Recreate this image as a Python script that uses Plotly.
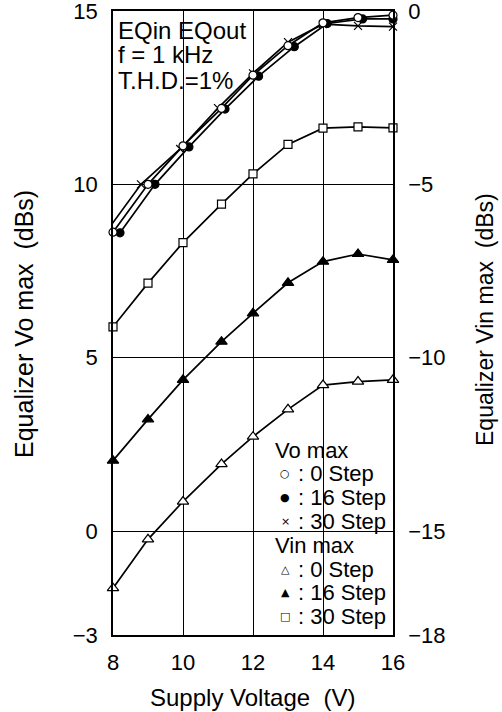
import plotly.graph_objects as go

# ---------------- data ----------------
voltage = [8, 9, 10, 11.1, 12, 13, 14, 15, 16]
voltage_vo16 = [8.2, 9.2, 10.17, 11.2, 12.16, 13.18, 14.12, 15.13, 16]
voltage_vo30 = [7.8, 8.8, 9.92, 11.0, 12.0, 13.0, 14.0, 15.0, 16.0]

vo_0step = [8.62, 10.0, 11.11, 12.19, 13.15, 14.0, 14.66, 14.81, 14.88]
vo_16step = [8.6, 10.0, 11.08, 12.17, 13.12, 13.97, 14.64, 14.77, 14.77]
vo_30step = [8.62, 10.0, 11.02, 12.2, 13.2, 14.1, 14.62, 14.57, 14.55]

vin_0step = [-16.65, -15.24, -14.15, -13.07, -12.28, -11.49, -10.79, -10.69, -10.64]
vin_16step = [-12.97, -11.78, -10.64, -9.54, -8.72, -7.84, -7.23, -7.01, -7.18]
vin_30step = [-9.11, -7.85, -6.68, -5.57, -4.70, -3.85, -3.38, -3.34, -3.37]

x_ticks = [8, 10, 12, 14, 16]
y_left_ticks = [-3, 0, 5, 10, 15]
y_right_ticks = [-18, -15, -10, -5, 0]

info_lines = ["EQin EQout", "f = 1 kHz", "T.H.D.=1%"]
legend_items = [
    ("Vo max", None),
    ("○", ": 0 Step"),
    ("●", ": 16 Step"),
    ("×", ": 30 Step"),
    ("Vin max", None),
    ("△", ": 0 Step"),
    ("▲", ": 16 Step"),
    ("□", ": 30 Step"),
]

FONT = "Liberation Sans, Arial, sans-serif"
BLACK = "#000000"

fig = go.Figure()

def add(x, y, symbol, fill, size, yaxis="y", lw=1.7, mlw=1.2):
    fig.add_trace(go.Scatter(
        x=x, y=y, yaxis=yaxis, mode="lines+markers", cliponaxis=False,
        line=dict(color=BLACK, width=lw),
        marker=dict(symbol=symbol, size=size, color=fill,
                    line=dict(color=BLACK, width=mlw)),
        showlegend=False, hoverinfo="skip"))

# Vin max (right axis)
add(voltage, vin_30step, "square", "white", 8, "y2")
add(voltage, vin_16step, "triangle-up", BLACK, 10, "y2")
add(voltage, vin_0step, "triangle-up", "white", 10, "y2")
# Vo max (left axis)
add(voltage_vo30, vo_30step, "x-thin", BLACK, 8, "y", mlw=1.2)
add(voltage_vo16, vo_16step, "circle", BLACK, 8, "y")
add(voltage, vo_0step, "circle", "white", 8, "y")

TICK_SIZE = 22
ax_common = dict(showline=True, linecolor=BLACK, linewidth=1.5,
                 ticks="inside", ticklen=5, tickcolor=BLACK, tickwidth=1,
                 tickfont=dict(family=FONT, size=TICK_SIZE, color=BLACK),
                 zeroline=False, fixedrange=True, automargin=False,
                 ticklabeloverflow="allow")

fig.update_layout(
    width=502, height=712,
    margin=dict(l=113, r=109, t=11, b=77, autoexpand=False),
    paper_bgcolor="white", plot_bgcolor="white",
    font=dict(family=FONT, color=BLACK),
    xaxis=dict(range=[8, 16], tickvals=x_ticks, mirror="ticks",
               showgrid=True, gridcolor=BLACK, gridwidth=1,
               ticklabelstandoff=7, **ax_common),
    yaxis=dict(range=[-3, 15], tickvals=y_left_ticks, tickformat="d",
               showgrid=True, gridcolor=BLACK, gridwidth=1,
               ticklabelstandoff=9, **ax_common),
    yaxis2=dict(range=[-18, 0], tickvals=y_right_ticks, overlaying="y",
                side="right", showgrid=False, ticklabelstandoff=9,
                **ax_common),
)

# white boxes behind the info text and the key
fig.add_shape(type="rect", xref="paper", yref="paper", x0=0.004, x1=0.30,
              y0=0.868, y1=0.996, fillcolor="white", line=dict(width=0),
              layer="between")
fig.add_shape(type="rect", xref="paper", yref="paper", x0=0.564, x1=0.994,
              y0=0.005, y1=0.316, fillcolor="white", line=dict(width=0),
              layer="between")

def px_x(px):
    return (px - 113) / 280.0

def px_y(py):
    return 1 - (py - 11) / 624.0

# info text
for i, t in enumerate(info_lines):
    fig.add_annotation(text=t, xref="paper", yref="paper",
                       x=px_x(116), y=px_y(30 + 25 * i), xanchor="left",
                       yanchor="middle", showarrow=False,
                       font=dict(family=FONT, size=24, color=BLACK))

# key
for i, (a, b) in enumerate(legend_items):
    yy = px_y(450 + 23.8 * i)
    if b is None:
        fig.add_annotation(text=a, xref="paper", yref="paper", x=px_x(273),
                           y=yy, xanchor="left", yanchor="middle",
                           showarrow=False,
                           font=dict(family=FONT, size=22, color=BLACK))
    else:
        fig.add_annotation(text=a, xref="paper", yref="paper", x=px_x(285),
                           y=yy, xanchor="center", yanchor="middle",
                           showarrow=False,
                           font=dict(family="DejaVu Sans", size=11, color=BLACK))
        fig.add_annotation(text=b, xref="paper", yref="paper", x=px_x(296),
                           y=yy, xanchor="left", yanchor="middle",
                           showarrow=False,
                           font=dict(family=FONT, size=22, color=BLACK))

# axis titles
fig.add_annotation(text="Supply Voltage  (V)", xref="paper", yref="paper",
                   x=px_x(252), y=px_y(697), xanchor="center", yanchor="middle",
                   showarrow=False,
                   font=dict(family=FONT, size=24, color=BLACK))
fig.add_annotation(text="Equalizer Vo max  (dBs)", xref="paper", yref="paper",
                   x=px_x(24), y=px_y(324), xanchor="center", yanchor="middle",
                   textangle=-90, showarrow=False,
                   font=dict(family=FONT, size=25, color=BLACK))
fig.add_annotation(text="Equalizer Vin max  (dBs)", xref="paper", yref="paper",
                   x=px_x(485), y=px_y(320), xanchor="center", yanchor="middle",
                   textangle=-90, showarrow=False,
                   font=dict(family=FONT, size=23, color=BLACK))

fig.write_html("out.html", config={"displayModeBar": False},
               post_script="document.body.style.margin='0px';")
